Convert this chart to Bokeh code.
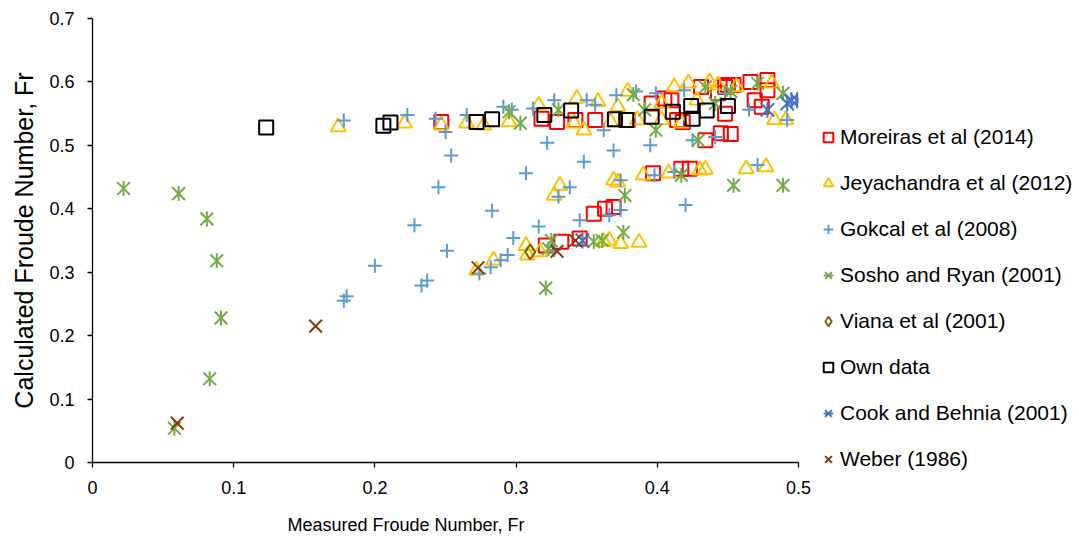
from math import pi
from bokeh.plotting import figure
from bokeh.models import Range1d, FixedTicker, Legend, LegendItem, Title
from bokeh.embed import file_html
from bokeh.resources import INLINE

# ---------------- data ----------------
x_ticks = [0, 0.1, 0.2, 0.3, 0.4, 0.5]
x_tick_labels = ["0", "0.1", "0.2", "0.3", "0.4", "0.5"]
y_ticks = [0, 0.1, 0.2, 0.3, 0.4, 0.5, 0.6, 0.7]
y_tick_labels = ["0", "0.1", "0.2", "0.3", "0.4", "0.5", "0.6", "0.7"]

x_title = "Measured Froude Number, Fr"
y_title = "Calculated Froude Number, Fr"

moreiras_x = [0.247, 0.318, 0.329, 0.342, 0.356, 0.379, 0.396, 0.405, 0.410, 0.414, 0.418,
              0.431, 0.443, 0.448, 0.450, 0.454, 0.466, 0.469, 0.474, 0.478, 0.478, 0.434,
              0.445, 0.452, 0.448, 0.321, 0.332, 0.345, 0.355, 0.363, 0.369, 0.397, 0.417, 0.423]
moreiras_y = [0.537, 0.542, 0.537, 0.540, 0.540, 0.540, 0.566, 0.574, 0.571, 0.540, 0.537,
              0.592, 0.582, 0.592, 0.595, 0.595, 0.600, 0.571, 0.561, 0.603, 0.587, 0.508,
              0.519, 0.518, 0.550, 0.342, 0.348, 0.353, 0.392, 0.400, 0.403, 0.456, 0.463, 0.463]

jeya_x = [0.174, 0.221, 0.247, 0.265, 0.277, 0.295, 0.316, 0.341, 0.343, 0.348, 0.358, 0.367,
          0.372, 0.379, 0.386, 0.403, 0.403, 0.412, 0.417, 0.422, 0.428, 0.437, 0.443, 0.456,
          0.481, 0.483, 0.491,
          0.331, 0.327, 0.369, 0.372, 0.390, 0.408, 0.430, 0.434, 0.463, 0.477,
          0.272, 0.284, 0.307, 0.308, 0.317, 0.366, 0.362, 0.374, 0.387]
jeya_y = [0.529, 0.535, 0.532, 0.535, 0.532, 0.537, 0.563, 0.535, 0.574, 0.524, 0.569, 0.537,
          0.561, 0.585, 0.540, 0.540, 0.566, 0.592, 0.535, 0.598, 0.571, 0.600, 0.595, 0.592,
          0.598, 0.540, 0.540,
          0.437, 0.421, 0.445, 0.442, 0.453, 0.456, 0.461, 0.462, 0.463, 0.466,
          0.303, 0.319, 0.342, 0.327, 0.332, 0.350, 0.348, 0.345, 0.347]

gokcal_x = [0.178, 0.223, 0.243, 0.250, 0.254, 0.245, 0.228, 0.251, 0.178, 0.180, 0.200, 0.233,
            0.237, 0.265, 0.274, 0.282, 0.289, 0.294, 0.298, 0.283, 0.291, 0.297, 0.307, 0.312,
            0.316, 0.322, 0.327, 0.330, 0.338, 0.345, 0.348, 0.350, 0.356, 0.362, 0.366, 0.369,
            0.371, 0.374, 0.374, 0.385, 0.395, 0.398, 0.399, 0.412, 0.419, 0.420, 0.425, 0.441,
            0.448, 0.465, 0.471, 0.492, 0.327]
gokcal_y = [0.539, 0.548, 0.542, 0.521, 0.484, 0.434, 0.374, 0.334, 0.255, 0.262, 0.310, 0.279,
            0.287, 0.548, 0.298, 0.308, 0.319, 0.327, 0.354, 0.397, 0.561, 0.556, 0.456, 0.558,
            0.372, 0.504, 0.571, 0.419, 0.434, 0.382, 0.474, 0.571, 0.564, 0.524, 0.390, 0.492,
            0.579, 0.445, 0.398, 0.585, 0.500, 0.453, 0.582, 0.458, 0.587, 0.406, 0.508, 0.513,
            0.582, 0.556, 0.469, 0.540, 0.335]

sosho_x = [0.022, 0.061, 0.081, 0.088, 0.091, 0.083, 0.058, 0.295, 0.303, 0.330, 0.383, 0.391,
           0.399, 0.429, 0.434, 0.441, 0.452, 0.471, 0.489, 0.377, 0.417, 0.454, 0.489, 0.376,
           0.361, 0.355, 0.325, 0.323, 0.321]
sosho_y = [0.432, 0.424, 0.384, 0.318, 0.228, 0.132, 0.054, 0.553, 0.535, 0.556, 0.580, 0.556,
           0.524, 0.508, 0.592, 0.566, 0.585, 0.598, 0.582, 0.421, 0.453, 0.437, 0.437, 0.363,
           0.350, 0.348, 0.350, 0.337, 0.275]

viana_x = [0.310]
viana_y = [0.332]

own_x = [0.123, 0.206, 0.211, 0.272, 0.283, 0.320, 0.339, 0.370, 0.378, 0.396, 0.411, 0.424,
         0.425, 0.435, 0.450]
own_y = [0.528, 0.531, 0.536, 0.537, 0.541, 0.548, 0.555, 0.541, 0.540, 0.545, 0.553, 0.562,
         0.542, 0.555, 0.562]

cook_x = [0.347, 0.478, 0.492, 0.495, 0.499]
cook_y = [0.350, 0.556, 0.566, 0.571, 0.571]

weber_x = [0.060, 0.158, 0.273, 0.329, 0.342]
weber_y = [0.062, 0.215, 0.307, 0.333, 0.350]

# name, x, y, marker, colour, size   ("star" = Excel-style x with a vertical bar)
series = [
    ("Moreiras et al (2014)", moreiras_x, moreiras_y, "square", "#FF0000", 14),
    ("Jeyachandra et al (2012)", jeya_x, jeya_y, "triangle", "#FFC000", 15),
    ("Gokcal et al (2008)", gokcal_x, gokcal_y, "cross", "#5B9BD5", 14),
    ("Sosho and Ryan (2001)", sosho_x, sosho_y, "star", "#70AD47", 15),
    ("Viana et al (2001)", viana_x, viana_y, "diamond", "#7F6000", 15),
    ("Own data", own_x, own_y, "square", "#000000", 14),
    ("Cook and Behnia (2001)", cook_x, cook_y, "star", "#4472C4", 16),
    ("Weber (1986)", weber_x, weber_y, "x", "#843C0C", 18),
]

FONT = "Liberation Sans"

p = figure(frame_width=706, height=540, output_backend="svg", toolbar_location=None,
           x_range=Range1d(0, 0.5), y_range=Range1d(0, 0.7),
           min_border_left=92, min_border_right=0, min_border_top=18, min_border_bottom=78)
p.outline_line_color = None
p.xgrid.visible = False
p.ygrid.visible = False
p.background_fill_color = "white"
p.border_fill_color = "white"

for ax, ticks, labels in ((p.xaxis, x_ticks, x_tick_labels), (p.yaxis, y_ticks, y_tick_labels)):
    ax.ticker = FixedTicker(ticks=ticks)
    ax.major_label_overrides = {t: l for t, l in zip(ticks, labels)}
    ax.minor_tick_line_color = None
    ax.major_tick_in = 0
    ax.major_tick_out = 5
    ax.axis_line_color = "black"
    ax.axis_line_width = 1.3
    ax.major_tick_line_color = "black"
    ax.major_tick_line_width = 1.3
    ax.major_label_text_font = FONT
    ax.major_label_text_font_size = "18px"
    ax.major_label_text_color = "black"
p.xaxis.major_label_standoff = 13
p.yaxis.major_label_standoff = 13
# spacer so the x title sits lower
p.xaxis.axis_label = " "
p.xaxis.axis_label_text_font_size = "1px"
p.xaxis.axis_label_standoff = 12

items = []
for name, xs, ys, marker, color, size in series:
    if marker == "star":
        r1 = p.scatter(xs, ys, marker="x", size=size + 3, line_color=color, line_width=2)
        r2 = p.scatter(xs, ys, marker="dash", size=size, angle=pi / 2,
                       line_color=color, line_width=2)
        rs = [r1, r2]
    else:
        rs = [p.scatter(xs, ys, marker=marker, size=size, fill_color=None,
                        line_color=color, line_width=2)]
    items.append(LegendItem(label=name, renderers=rs))

legend = Legend(items=items, location=(18, -9), orientation="vertical",
                label_text_font=FONT, label_text_font_size="21px", label_text_color="black",
                glyph_width=24, glyph_height=24, label_height=24, label_standoff=0,
                spacing=22, padding=0, margin=0, border_line_color=None,
                background_fill_alpha=0)
p.add_layout(legend, "right")

p.add_layout(Title(text=x_title, align="left", offset=195, standoff=2, vertical_align="middle",
                   text_font=FONT, text_font_size="18px", text_font_style="normal",
                   text_color="black"), "below")
p.add_layout(Title(text=y_title, align="center", standoff=15, vertical_align="middle",
                   text_font=FONT, text_font_size="25px", text_font_style="normal",
                   text_color="black"), "left")

open("out.html", "w").write(file_html(p, INLINE))
